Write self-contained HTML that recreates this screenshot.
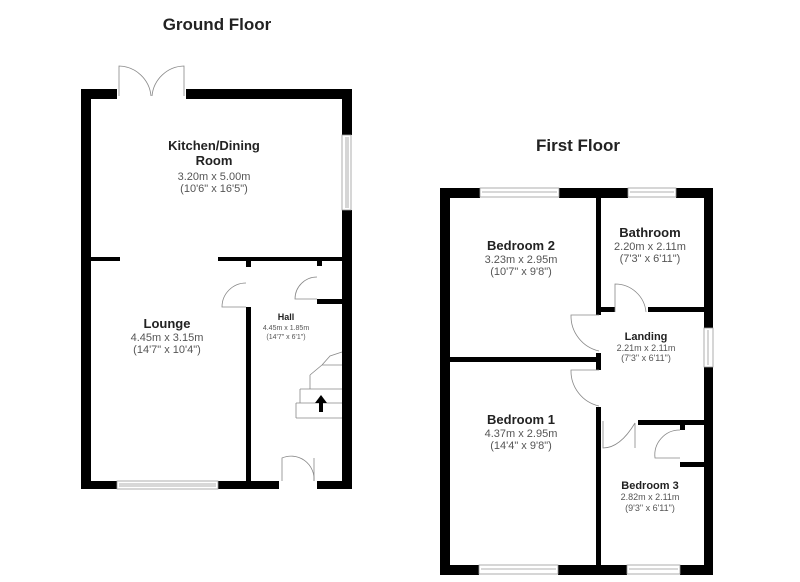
<!DOCTYPE html>
<html><head><style>body{margin:0;background:#fff}svg{display:block}text{font-family:"Liberation Sans",Arial,sans-serif;text-anchor:middle}.t{font-weight:bold;fill:#222}.d{fill:#555}</style></head><body>
<svg width="800" height="582" viewBox="0 0 800 582" xmlns="http://www.w3.org/2000/svg">
<g fill="#000">
<!-- ground floor walls -->
<rect x="81" y="89" width="10" height="400"/>
<rect x="81" y="89" width="36" height="10"/>
<rect x="186" y="89" width="166" height="10"/>
<rect x="342" y="89" width="10" height="46"/>
<rect x="342" y="210" width="10" height="279"/>
<rect x="81" y="481" width="36" height="8"/>
<rect x="218" y="481" width="61" height="8"/>
<rect x="317" y="481" width="35" height="8"/>
<rect x="91" y="257" width="29" height="4"/>
<rect x="218" y="257" width="124" height="4"/>
<rect x="246" y="257" width="5" height="10"/>
<rect x="246" y="307" width="5" height="174"/>
<rect x="317" y="261" width="5" height="5"/>
<rect x="317" y="299" width="25" height="5"/>
<!-- first floor walls -->
<rect x="440" y="188" width="10" height="387"/>
<rect x="440" y="188" width="40" height="10"/>
<rect x="559" y="188" width="69" height="10"/>
<rect x="676" y="188" width="37" height="10"/>
<rect x="704" y="188" width="9" height="140"/>
<rect x="704" y="367" width="9" height="208"/>
<rect x="440" y="565" width="39" height="10"/>
<rect x="558" y="565" width="69" height="10"/>
<rect x="680" y="565" width="33" height="10"/>
<rect x="596" y="198" width="5" height="117"/>
<rect x="596" y="307" width="19" height="5"/>
<rect x="648" y="307" width="56" height="5"/>
<rect x="450" y="357" width="151" height="5"/>
<rect x="596" y="353" width="5" height="17"/>
<rect x="596" y="407" width="5" height="158"/>
<rect x="638" y="420" width="66" height="5"/>
<rect x="680" y="425" width="5" height="5"/>
<rect x="680" y="462" width="24" height="5"/>
</g>
<g fill="#fff" stroke="#999" stroke-width="0.8">
<!-- windows -->
<rect x="342" y="135" width="9" height="75"/><line x1="346" y1="137" x2="346" y2="208"/><line x1="348" y1="137" x2="348" y2="208"/>
<rect x="117" y="481" width="101" height="8"/><line x1="119" y1="484" x2="216" y2="484"/><line x1="119" y1="486" x2="216" y2="486"/>
<rect x="480" y="188" width="79" height="9"/><line x1="482" y1="192" x2="557" y2="192"/>
<rect x="628" y="188" width="48" height="9"/><line x1="630" y1="192" x2="674" y2="192"/>
<rect x="704" y="328" width="9" height="39"/><line x1="708" y1="330" x2="708" y2="365"/>
<rect x="479" y="565" width="79" height="9"/><line x1="481" y1="569" x2="556" y2="569"/>
<rect x="627" y="565" width="53" height="9"/><line x1="629" y1="569" x2="678" y2="569"/>
</g>
<g fill="none" stroke="#888" stroke-width="0.8">
<!-- french doors -->
<path d="M119 96 V66 A33 33 0 0 1 151 96"/><path d="M184 96 V66 A33 33 0 0 0 152 96"/>
<!-- lounge door -->
<path d="M246 307 H222 A24 24 0 0 1 246 283"/>
<path d="M317 299 H295 A22 22 0 0 1 317 277"/>
<path d="M282 481 V458 A23 23 0 0 1 314 481" /><path d="M314 481 V458"/>
<!-- stairs -->
<path d="M296 418 H342 M296 403 H342 M300 389 H342 M310 375 L322 365 H342 M322 365 L330 356 L342 352 M296 403 V418 M300 389 V403 M310 375 V389"/>
<!-- first floor doors -->
<path d="M615 312 V284 A31 31 0 0 1 646 312"/>
<path d="M599 315 H571 A36 36 0 0 0 599 351"/>
<path d="M599 370 H571 A36 36 0 0 0 599 406"/>
<path d="M603 421 V448 Q620 448 635 423 M635 423 V448"/>
<path d="M680 430 A25 25 0 0 0 655 458 H680"/>
</g>
<path d="M321 395 L315 403 H319 V412 H323 V403 H327 Z" fill="#000"/>
<text x="217" y="30" class="t" font-size="17">Ground Floor</text>
<text x="578" y="151" class="t" font-size="17">First Floor</text>
<text x="214" y="150" class="t" font-size="13">Kitchen/Dining</text>
<text x="214" y="165" class="t" font-size="13">Room</text>
<text x="214" y="180" class="d" font-size="11">3.20m x 5.00m</text>
<text x="214" y="192" class="d" font-size="11">(10'6" x 16'5")</text>
<text x="167" y="328" class="t" font-size="13">Lounge</text>
<text x="167" y="341" class="d" font-size="11">4.45m x 3.15m</text>
<text x="167" y="353" class="d" font-size="11">(14'7" x 10'4")</text>
<text x="286" y="320" class="t" font-size="9">Hall</text>
<text x="286" y="330" class="d" font-size="7">4.45m x 1.85m</text>
<text x="286" y="339" class="d" font-size="7">(14'7" x 6'1")</text>
<text x="521" y="250" class="t" font-size="13">Bedroom 2</text>
<text x="521" y="263" class="d" font-size="11">3.23m x 2.95m</text>
<text x="521" y="275" class="d" font-size="11">(10'7" x 9'8")</text>
<text x="650" y="237" class="t" font-size="13">Bathroom</text>
<text x="650" y="250" class="d" font-size="11">2.20m x 2.11m</text>
<text x="650" y="262" class="d" font-size="11">(7'3" x 6'11")</text>
<text x="646" y="340" class="t" font-size="11">Landing</text>
<text x="646" y="351" class="d" font-size="9">2.21m x 2.11m</text>
<text x="646" y="361" class="d" font-size="9">(7'3" x 6'11")</text>
<text x="521" y="424" class="t" font-size="13">Bedroom 1</text>
<text x="521" y="437" class="d" font-size="11">4.37m x 2.95m</text>
<text x="521" y="449" class="d" font-size="11">(14'4" x 9'8")</text>
<text x="650" y="489" class="t" font-size="11">Bedroom 3</text>
<text x="650" y="500" class="d" font-size="9">2.82m x 2.11m</text>
<text x="650" y="511" class="d" font-size="9">(9'3" x 6'11")</text>
</svg>
</body></html>
